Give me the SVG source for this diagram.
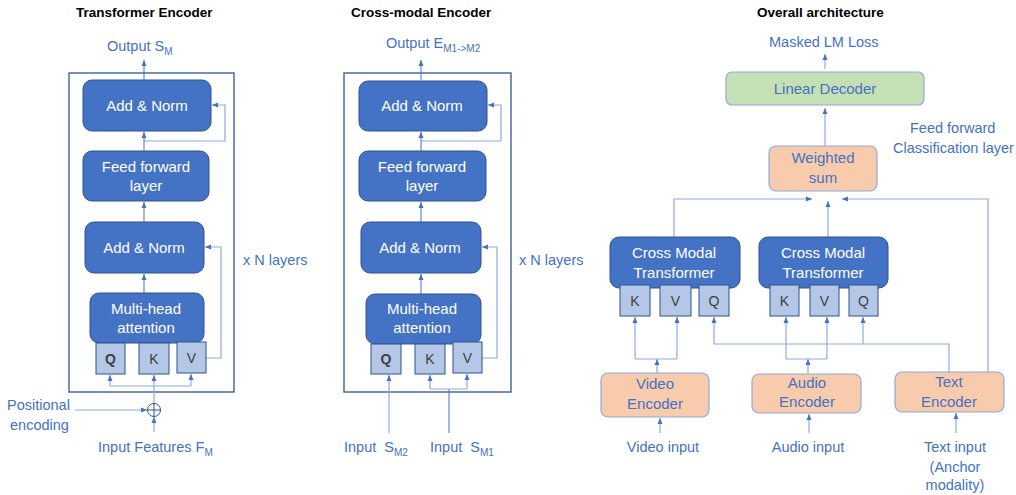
<svg xmlns="http://www.w3.org/2000/svg" width="1016" height="495" viewBox="0 0 1016 495">
<defs>
<marker id="ah" markerWidth="6" markerHeight="6" refX="6" refY="3" orient="auto" markerUnits="userSpaceOnUse"><path d="M0,0.5 L6,3 L0,5.5 z" fill="#4472C4"/></marker>
</defs>
<style>
text{font-family:"Liberation Sans",Arial,sans-serif}
.title{font-size:13.5px;font-weight:bold;fill:#000}
.lbl{font-size:14.5px;fill:#4472C4}
.bt{font-size:15px;fill:#fff;text-anchor:middle}
.lt{font-size:15px;fill:#4472C4;text-anchor:middle}
.qt{font-size:14px;fill:#404040;text-anchor:middle}
.blk{fill:#4472C4;stroke:#2F528F;stroke-width:1}
.qkv{fill:#B4C7E7;stroke:#2F528F;stroke-width:1}
.frame{fill:none;stroke:#2F5597;stroke-width:1.3}
.grn{fill:#C5E0B4;stroke:#8FAADC;stroke-width:1.2}
.org{fill:#F8CBAD;stroke:#8FAADC;stroke-width:1.2}
.c{fill:none;stroke:#4472C4;stroke-width:1}
.cl{fill:none;stroke:#8FAADC;stroke-width:1.2}
.a{marker-end:url(#ah)}
</style>

<!-- titles -->
<text class="title" x="76" y="17">Transformer Encoder</text>
<text class="title" x="351" y="17">Cross-modal Encoder</text>
<text class="title" x="757" y="17">Overall architecture</text>

<!-- frames -->
<rect class="frame" x="69" y="73" width="165" height="319"/>
<rect class="frame" x="344" y="73" width="167" height="319"/>

<!-- connectors -->
<g id="connectors">
<!-- left -->
<path class="c a" d="M144,80 V60"/>
<path class="cl a" d="M144,141 H225 V105 H212"/>
<path class="c a" d="M144,151 V132"/>
<path class="c a" d="M144,222 V202"/>
<path class="c a" d="M144,293 V274"/>
<path class="cl a" d="M206,358 H221 V247 H205"/>
<path class="cl" d="M110,386 H191"/>
<path class="cl a" d="M110,386 V375"/>
<path class="cl a" d="M191,386 V374"/>
<path class="cl a" d="M154,403 V375"/>
<path class="cl a" d="M75,410 H147"/>
<path class="cl a" d="M154,432 V417"/>
<!-- middle -->
<path class="c a" d="M421,80 V60"/>
<path class="cl a" d="M421,141 H501 V105 H488"/>
<path class="c a" d="M421,151 V132"/>
<path class="c a" d="M421,222 V202"/>
<path class="c a" d="M421,294 V274"/>
<path class="cl a" d="M482,358 H497 V247 H482"/>
<path class="cl a" d="M389,433 V375"/>
<path class="c" d="M449,433 V389"/>
<path class="cl" d="M430,389 H467"/>
<path class="cl a" d="M430,389 V375"/>
<path class="cl a" d="M467,389 V374"/>
<!-- right -->
<path class="cl a" d="M825,69 V54"/>
<path class="cl a" d="M825,146 V108"/>
<path class="cl a" d="M674,237 V199 H812"/>
<path class="cl a" d="M988,373 V199 H842"/>
<path class="cl a" d="M828,237 V201"/>
<path class="cl a" d="M657,373 V359"/>
<path class="cl" d="M635,359 H677"/>
<path class="cl a" d="M635,359 V317"/>
<path class="cl a" d="M677,359 V317"/>
<path class="cl a" d="M808,374 V359"/>
<path class="cl" d="M786,359 H827"/>
<path class="cl a" d="M786,359 V317"/>
<path class="cl a" d="M827,359 V317"/>
<path class="cl a" d="M949,372 V344 H714 V317"/>
<path class="cl a" d="M863,344 V317"/>
<path class="cl a" d="M660,433 V418"/>
<path class="cl a" d="M809,433 V414"/>
<path class="cl a" d="M956,433 V413"/>
</g>

<!-- left panel nodes -->
<text class="lbl" x="107" y="51">Output S<tspan font-size="10" dy="4">M</tspan></text>
<g id="te-addnorm1"><rect class="blk" x="83" y="80" width="128" height="51" rx="9"/><text class="bt" x="147" y="111">Add &amp; Norm</text></g>
<g id="te-ff"><rect class="blk" x="83" y="151" width="126" height="50" rx="9"/><text class="bt" x="146" y="172">Feed forward</text><text class="bt" x="146" y="191">layer</text></g>
<g id="te-addnorm2"><rect class="blk" x="85" y="222" width="119" height="51" rx="9"/><text class="bt" x="144" y="253">Add &amp; Norm</text></g>
<g id="te-mha"><rect class="blk" x="90" y="293" width="114" height="50" rx="9"/><text class="bt" x="146" y="314">Multi-head</text><text class="bt" x="146" y="333">attention</text></g>
<g id="te-q"><rect class="qkv" x="96" y="343" width="29" height="31"/><text class="qt" x="110.5" y="364" font-weight="bold">Q</text></g>
<g id="te-k"><rect class="qkv" x="139" y="343" width="30" height="31"/><text class="qt" x="154" y="364">K</text></g>
<g id="te-v"><rect class="qkv" x="177" y="342" width="29" height="31"/><text class="qt" x="191.5" y="363">V</text></g>
<g id="te-plus"><circle cx="154" cy="410" r="6.5" fill="none" stroke="#2F528F" stroke-width="1"/><path d="M147.5,410 H160.5 M154,403.5 V416.5" stroke="#2F528F" stroke-width="1"/></g>
<text class="lbl" x="7" y="410">Positional</text>
<text class="lbl" x="10" y="430">encoding</text>
<text class="lbl" x="98" y="452">Input Features F<tspan font-size="10" dy="4">M</tspan></text>
<text class="lbl" x="243" y="265">x N layers</text>

<!-- middle panel nodes -->
<text class="lbl" x="386" y="48">Output E<tspan font-size="10" dy="4">M1-&gt;M2</tspan></text>
<g id="ce-addnorm1"><rect class="blk" x="359" y="81" width="128" height="50" rx="9"/><text class="bt" x="422" y="111">Add &amp; Norm</text></g>
<g id="ce-ff"><rect class="blk" x="359" y="151" width="127" height="50" rx="9"/><text class="bt" x="422" y="172">Feed forward</text><text class="bt" x="422" y="191">layer</text></g>
<g id="ce-addnorm2"><rect class="blk" x="361" y="222" width="120" height="51" rx="9"/><text class="bt" x="420" y="253">Add &amp; Norm</text></g>
<g id="ce-mha"><rect class="blk" x="366" y="294" width="115" height="50" rx="9"/><text class="bt" x="422" y="314">Multi-head</text><text class="bt" x="422" y="333">attention</text></g>
<g id="ce-q"><rect class="qkv" x="371" y="344" width="30" height="30"/><text class="qt" x="386" y="364" font-weight="bold">Q</text></g>
<g id="ce-k"><rect class="qkv" x="415" y="344" width="30" height="30"/><text class="qt" x="430" y="364">K</text></g>
<g id="ce-v"><rect class="qkv" x="453" y="342" width="29" height="31"/><text class="qt" x="467.5" y="363">V</text></g>
<text class="lbl" x="344" y="452" xml:space="preserve">Input  S<tspan font-size="10" dy="4">M2</tspan></text>
<text class="lbl" x="430" y="452" xml:space="preserve">Input  S<tspan font-size="10" dy="4">M1</tspan></text>
<text class="lbl" x="519" y="265">x N layers</text>

<!-- right panel nodes -->
<text class="lbl" x="769" y="47">Masked LM Loss</text>
<g id="linear-decoder"><rect class="grn" x="726" y="72" width="198" height="33" rx="6"/><text class="lt" x="825" y="94">Linear Decoder</text></g>
<text class="lbl" x="910" y="133">Feed forward</text>
<text class="lbl" x="893" y="153">Classification layer</text>
<g id="weighted-sum"><rect class="org" x="769" y="146" width="108" height="45" rx="7"/><text class="lt" x="823" y="163">Weighted</text><text class="lt" x="823" y="183">sum</text></g>
<g id="cmt1"><rect class="blk" x="610" y="237" width="130" height="51" rx="9"/><text class="bt" x="674" y="258">Cross Modal</text><text class="bt" x="674" y="278">Transformer</text></g>
<g id="cmt1-k"><rect class="qkv" x="620" y="285" width="30" height="31"/><text class="qt" x="635" y="306">K</text></g>
<g id="cmt1-v"><rect class="qkv" x="660" y="285" width="31" height="31"/><text class="qt" x="675.5" y="306">V</text></g>
<g id="cmt1-q"><rect class="qkv" x="699" y="285" width="30" height="31"/><text class="qt" x="714" y="306">Q</text></g>
<g id="cmt2"><rect class="blk" x="759" y="237" width="129" height="51" rx="9"/><text class="bt" x="823" y="258">Cross Modal</text><text class="bt" x="823" y="278">Transformer</text></g>
<g id="cmt2-k"><rect class="qkv" x="770" y="285" width="29" height="31"/><text class="qt" x="784.5" y="306">K</text></g>
<g id="cmt2-v"><rect class="qkv" x="810" y="285" width="29" height="31"/><text class="qt" x="824.5" y="306">V</text></g>
<g id="cmt2-q"><rect class="qkv" x="849" y="285" width="29" height="31"/><text class="qt" x="863.5" y="306">Q</text></g>
<g id="video-enc"><rect class="org" x="601" y="373" width="108" height="44" rx="7"/><text class="lt" x="655" y="389">Video</text><text class="lt" x="655" y="409">Encoder</text></g>
<g id="audio-enc"><rect class="org" x="752" y="374" width="109" height="39" rx="7"/><text class="lt" x="807" y="388">Audio</text><text class="lt" x="807" y="407">Encoder</text></g>
<g id="text-enc"><rect class="org" x="895" y="372" width="109" height="40" rx="7"/><text class="lt" x="949" y="387">Text</text><text class="lt" x="949" y="407">Encoder</text></g>
<text class="lbl" x="663" y="452" text-anchor="middle">Video input</text>
<text class="lbl" x="808" y="452" text-anchor="middle">Audio input</text>
<text class="lbl" x="955" y="452" text-anchor="middle">Text input</text>
<text class="lbl" x="955" y="472" text-anchor="middle">(Anchor</text>
<text class="lbl" x="955" y="490" text-anchor="middle">modality)</text>
</svg>
